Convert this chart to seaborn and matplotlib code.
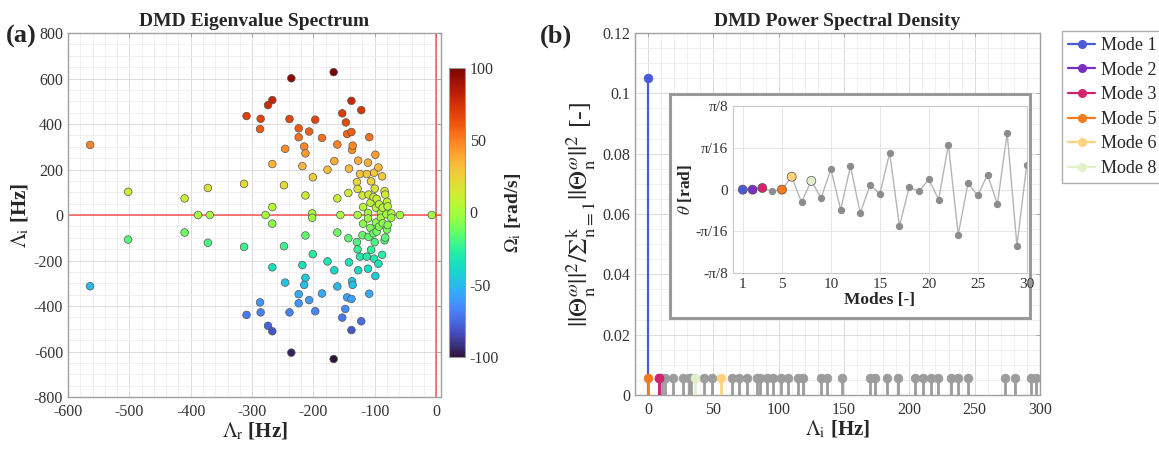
import numpy as np
import pandas as pd
import matplotlib
matplotlib.use("Agg")
import matplotlib.pyplot as plt
import seaborn as sns
from matplotlib.legend_handler import HandlerLine2D
from matplotlib.lines import Line2D
from matplotlib.patches import Rectangle
from matplotlib.ticker import MultipleLocator, FixedLocator

# ---------------- data ----------------
# (a) DMD eigenvalues: real part [Hz], imaginary part [Hz]
lam_r = [-564, -564, -502, -502, -410, -410, -388, -372, -369, -372, -313, -313,
         -309, -309, -286, -287, -287, -286, -274, -267, -274, -267, -278, -267,
         -267, -267, -267, -246, -248, -246, -248, -239, -236, -236, -239, -224,
         -224, -224, -224, -215, -213, -218, -213, -213, -213, -215, -218, -207,
         -207, -202, -202, -201, -201, -197, -197, -186, -186, -177, -177, -167,
         -167, -166, -166, -161, -161, -161, -161, -156, -153, -153, -147, -148,
         -145, -145, -138, -138, -138, -138, -137, -137, -136, -136, -142, -142,
         -143, -143, -128, -127, -127, -129, -129, -128, -128, -124, -124, -122,
         -122, -120, -120, -119, -119, -113, -113, -110, -110, -111, -111, -111,
         -111, -109, -109, -106, -106, -107, -107, -102, -102, -101, -101, -99,
         -99, -100, -100, -98, -98, -97, -97, -94, -94, -93, -93, -90, -90, -88,
         -88, -87, -87, -84, -84, -83, -83, -81, -80, -80, -79, -79, -73, -73,
         -59, -7]
lam_i = [308, -313, 102, -108, 73, -77, 0, 119, 0, -122, 137, -140,
         435, -439, 423, 378, -384, -428, 483, 505, -487, -511, 0, 224,
         35, -38, -230, 291, 131, -297, -137, 422, 601, -605, -428, 381,
         342, -348, -388, 301, 271, 215, 86, -90, -276, -307, -220, 367,
         -374, 7, -12, 166, -172, 419, -423, 339, -345, 199, -204, 628,
         -633, 237, -243, 310, -314, 73, -77, 0, 447, -451, 407, -413,
         356, -362, 502, -506, 365, -369, 286, -291, 305, -307, 204, -208,
         97, -102, 0, 239, -243, 145, -119, 115, -151, 180, -183, 461,
         -467, 86, -89, 35, -38, 180, -183, 90, -96, 230, -236, 9,
         -15, 342, -346, 148, -153, 54, -57, 79, -81, 186, -192, 265,
         -268, 116, -119, 32, -33, 71, -73, 209, -214, 47, -51, 9, -12, 170,
         -175, 32, -36, 105, -111, 90, -99, 3, 58, -64, 38, -44, 7, -12,
         0, 0]
HZ_TO_RADS_SCALE = 100.0 / 630.0   # colour scale: Omega_i from Lambda_i

# (b) power spectral density stems
mode_labels = ["Mode 1", "Mode 2", "Mode 3", "Mode 5", "Mode 6", "Mode 8"]
mode_freq = [0, 8, 8, 0, 56, 36]
mode_psd = [0.105, 0.0055, 0.0055, 0.0055, 0.0055, 0.0055]
mode_index = [1, 2, 3, 5, 6, 8]
mode_colors = ["#4a5bd8", "#7a2fc2", "#d42470", "#f57a1c", "#fdd47c", "#dff0cb"]

gray_freq = [10.6, 12.8, 19.0, 26.8, 31.2, 32.7, 43.1, 49.1, 63.9, 69.7, 75.9,
             83.3, 85.7, 91.3, 95.9, 102.0, 107.0, 114.5, 118.5, 132.4, 137.2,
             148.7, 169.7, 173.7, 183.1, 191.3, 204.4, 210.5, 216.4, 222.0,
             231.9, 237.2, 245.2, 273.0, 281.0, 293.0, 297.0]
gray_psd = [0.0055, 0.0055, 0.0055, 0.0055, 0.0055, 0.0055, 0.0055, 0.0055,
            0.0055, 0.0055, 0.0055, 0.0055, 0.0055, 0.0055, 0.0055, 0.0055,
            0.0055, 0.0055, 0.0055, 0.0055, 0.0055, 0.0055, 0.0055, 0.0055,
            0.0055, 0.0055, 0.0055, 0.0055, 0.0055, 0.0055, 0.0055, 0.0055,
            0.0055, 0.0055, 0.0055, 0.0055, 0.0055]

# inset: phase of modes 1..30 in units of pi/16
modes = list(range(1, 31))
theta_pi16 = [0, 0, 0.04, -0.04, 0, 0.31, -0.30, 0.21, -0.20, 0.49, -0.48, 0.56,
              -0.56, 0.11, -0.10, 0.88, -0.87, 0.06, -0.04, 0.25, -0.24, 1.08,
              -1.08, 0.15, -0.14, 0.36, -0.35, 1.35, -1.34, 0.60]

# ---------------- style ----------------
sns.set_style("white")
plt.rcParams["font.family"] = ["Liberation Serif", "DejaVu Serif"]
plt.rcParams["mathtext.fontset"] = "stix"
plt.rcParams["axes.unicode_minus"] = False
plt.rcParams["axes.edgecolor"] = "#9a9a9a"

GRID_MAJ = "#dcdcdc"
GRID_MIN = "#eeeeee"
TICK_FS = 11.5

fig = plt.figure(figsize=(11.59, 4.53), dpi=100)


def style_axes(ax):
    ax.tick_params(which="both", direction="in", top=True, right=True,
                   labelsize=TICK_FS, length=3, width=0.6, colors="#9a9a9a",
                   labelcolor="#333333")
    ax.tick_params(which="minor", length=0)
    ax.grid(True, which="major", color=GRID_MAJ, lw=0.7)
    ax.grid(True, which="minor", color=GRID_MIN, lw=0.6)
    ax.set_axisbelow(True)
    for s in ax.spines.values():
        s.set_color("#a0a0a0")
        s.set_linewidth(1.0)


# ---------------- (a) eigenvalue spectrum ----------------
axA = fig.add_axes([0.0587, 0.1236, 0.3218, 0.8035])
dfA = pd.DataFrame({"lam_r": lam_r, "lam_i": lam_i})
dfA["omega"] = dfA["lam_i"] * HZ_TO_RADS_SCALE
axA.axhline(0, color="#ff3030", lw=1.1, alpha=0.8, zorder=1)
axA.axvline(0, color="#ff3030", lw=1.1, alpha=0.8, zorder=1)
sns.scatterplot(data=dfA, x="lam_r", y="lam_i", hue="omega", palette="turbo",
                hue_norm=(-100, 100), s=30, edgecolor="#555555", linewidth=0.5,
                legend=False, ax=axA, zorder=3)
axA.set_xlim(-600, 8)
axA.set_ylim(-800, 800)
axA.xaxis.set_major_locator(MultipleLocator(100))
axA.xaxis.set_minor_locator(MultipleLocator(20))
axA.yaxis.set_major_locator(MultipleLocator(200))
axA.yaxis.set_minor_locator(MultipleLocator(50))
style_axes(axA)
axA.tick_params(axis="x", pad=5)
axA.set_xlabel(r"$\Lambda_\mathrm{r}$ [Hz]", fontsize=15, fontweight="bold", labelpad=1)
axA.set_ylabel(r"$\Lambda_\mathrm{i}$ [Hz]", fontsize=15, fontweight="bold", labelpad=2)
axA.set_title("DMD Eigenvalue Spectrum", fontsize=14, fontweight="bold", pad=5)

cax = fig.add_axes([0.3874, 0.212, 0.0138, 0.638])
sm = plt.cm.ScalarMappable(cmap="turbo", norm=plt.Normalize(-100, 100))
cb = fig.colorbar(sm, cax=cax, ticks=[-100, -50, 0, 50, 100])
cb.outline.set_edgecolor("#999999")
cb.ax.tick_params(labelsize=TICK_FS, length=0, labelcolor="#333333")
cb.set_label(r"$\Omega_\mathrm{i}$ [rad/s]", fontsize=14, fontweight="bold", labelpad=3)

fig.text(0.005, 0.905, "(a)", fontsize=19, fontweight="bold")
fig.text(0.466, 0.905, "(b)", fontsize=19, fontweight="bold")

# ---------------- (b) power spectral density ----------------
axB = fig.add_axes([0.5479, 0.128, 0.3494, 0.799])
GRAY = "#9c9c9c"
dfG = pd.DataFrame({"f": gray_freq, "p": gray_psd})
axB.vlines(dfG["f"], 0, dfG["p"], color=GRAY, lw=2.0, zorder=2)
sns.scatterplot(data=dfG, x="f", y="p", color=GRAY, s=40, edgecolor=GRAY,
                linewidth=0.5, ax=axB, zorder=3, legend=False)

handles = []
for i in range(len(mode_labels)):
    f, p, c = mode_freq[i], mode_psd[i], mode_colors[i]
    lw = 1.6 if i == 0 else 2.0
    axB.vlines([f], 0, [p], color=c, lw=lw, zorder=4 + i)
    dfm = pd.DataFrame({"f": [f], "p": [p]})
    sns.scatterplot(data=dfm, x="f", y="p", color=c, s=40, edgecolor=c,
                    linewidth=0.5, ax=axB, zorder=5 + i, legend=False)
    handles.append(Line2D([0, 1], [0, 0], color=c, lw=1.6, marker="o",
                          markersize=5.5, markerfacecolor=c, markeredgecolor=c,
                          label=mode_labels[i]))

axB.set_xlim(-10, 300)
axB.set_ylim(0, 0.12)
axB.xaxis.set_major_locator(MultipleLocator(50))
axB.xaxis.set_minor_locator(MultipleLocator(10))
axB.yaxis.set_major_locator(FixedLocator([0, 0.02, 0.04, 0.06, 0.08, 0.1, 0.12]))
axB.yaxis.set_minor_locator(MultipleLocator(0.005))
axB.set_yticklabels(["0", "0.02", "0.04", "0.06", "0.08", "0.1", "0.12"])
style_axes(axB)
axB.tick_params(axis="x", pad=5)
axB.set_xlabel(r"$\Lambda_\mathrm{i}$ [Hz]", fontsize=15, fontweight="bold", labelpad=1)
axB.set_ylabel(r"$||\Theta^{\omega}_{\mathrm{n}}||^2/\Sigma^{\mathrm{k}}_{\mathrm{n=1}}||\Theta^{\omega}_{\mathrm{n}}||^2$ [-]",
               fontsize=19, labelpad=3)
axB.set_title("DMD Power Spectral Density", fontsize=14, fontweight="bold", pad=5)


class RightMarkerHandler(HandlerLine2D):
    def get_xdata(self, legend, xdescent, ydescent, width, height, fontsize):
        xdata = np.array([-xdescent, -xdescent + width])
        xdata_marker = np.array([-xdescent + width])
        return xdata, xdata_marker


leg = fig.legend(handles=handles, loc="upper left",
                 bbox_to_anchor=(0.916, 0.932), fontsize=13, frameon=True,
                 fancybox=False, edgecolor="#9a9a9a", handlelength=1.5,
                 handletextpad=0.35, borderpad=0.35, labelspacing=0.42,
                 borderaxespad=0.0,
                 handler_map={Line2D: RightMarkerHandler(numpoints=1)})
leg.get_frame().set_linewidth(1.0)

# ---------------- inset ----------------
box = Rectangle((0.578, 0.298), 0.3106, 0.4945, transform=fig.transFigure,
                facecolor="white", edgecolor="#9a9a9a", lw=2.2, zorder=5)
fig.patches.append(box)

axI = fig.add_axes([0.6324, 0.397, 0.2535, 0.3687])
axI.set_zorder(10)
dfI = pd.DataFrame({"mode": modes, "theta": np.array(theta_pi16) * np.pi / 16})
sns.lineplot(data=dfI, x="mode", y="theta", color="#b5b5b5", lw=1.0,
             marker="o", markersize=4.5, markerfacecolor="#8c8c8c",
             markeredgecolor="#8c8c8c", ax=axI, zorder=2)
dfHi = pd.DataFrame({"mode": mode_index,
                     "theta": [np.array(theta_pi16)[m - 1] * np.pi / 16 for m in mode_index],
                     "label": mode_labels})
sns.scatterplot(data=dfHi, x="mode", y="theta", hue="label",
                palette=dict(zip(mode_labels, mode_colors)), s=42,
                edgecolor="#555555", linewidth=0.5, legend=False, ax=axI, zorder=4)
axI.set_xlim(0, 30)
axI.set_ylim(-np.pi / 8, np.pi / 8)
axI.set_xticks([1, 5, 10, 15, 20, 25, 30])
axI.set_yticks([-np.pi / 8, -np.pi / 16, 0, np.pi / 16, np.pi / 8])
axI.set_yticklabels(["-π/8", "-π/16", "0", "π/16", "π/8"])
axI.tick_params(direction="in", top=False, right=False, labelsize=11,
                length=2, colors="#bbbbbb", labelcolor="#333333")
axI.grid(True, color="#e6e6e6", lw=0.7)
axI.set_axisbelow(True)
for s in axI.spines.values():
    s.set_color("#c8c8c8")
    s.set_linewidth(0.8)
axI.set_xlabel("Modes [-]", fontsize=12.5, fontweight="bold", labelpad=1)
axI.set_ylabel(r"$\mathit{\theta}$ [rad]", fontsize=12.5, fontweight="bold", labelpad=1)

fig.savefig("out.png", dpi=100)
